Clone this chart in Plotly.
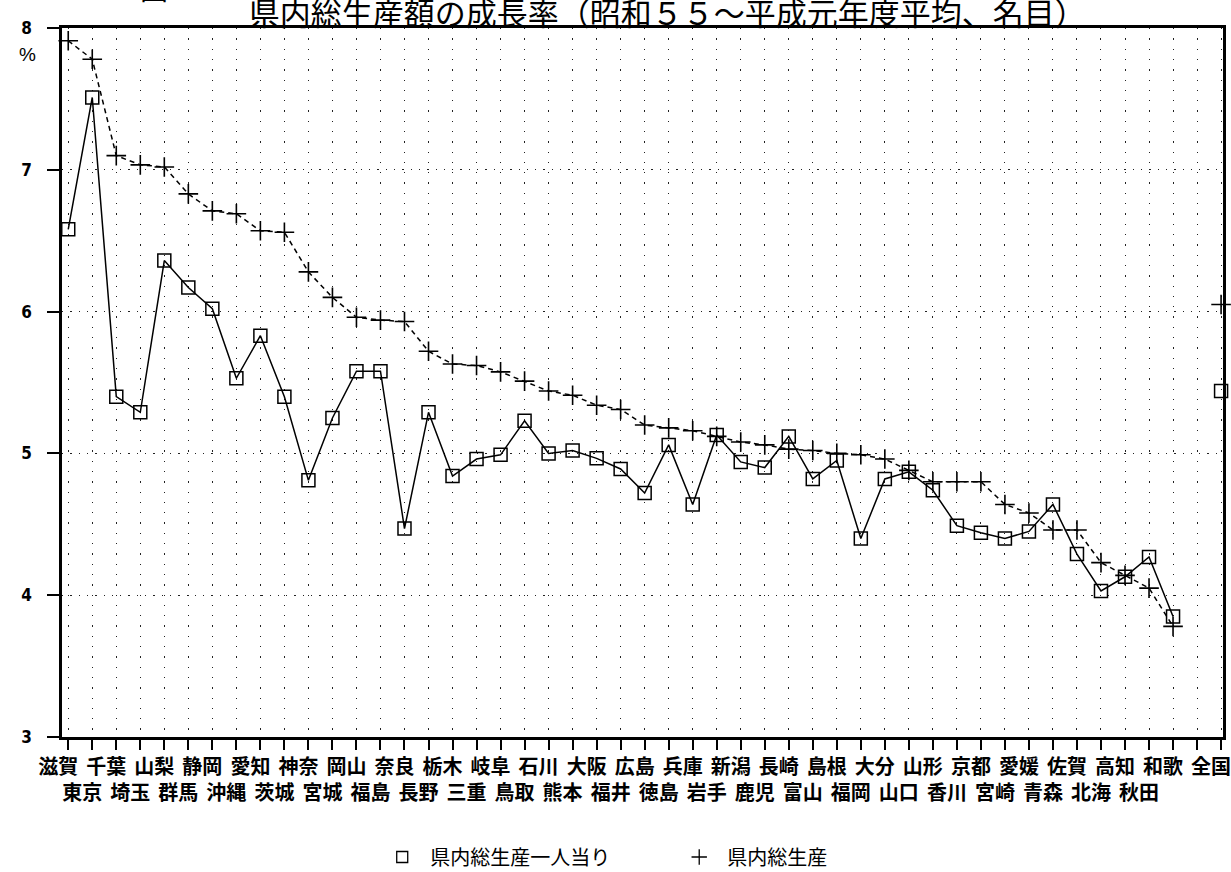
import plotly.graph_objects as go

CJK = "Noto Sans CJK JP"
NUM = "Liberation Sans Narrow, DejaVu Sans Condensed, Liberation Sans, sans-serif"

title_text = "県内総生産額の成長率（昭和５５～平成元年度平均、名目）"
figure_no = "図10"
y_unit = "%"

prefectures = ["滋賀", "東京", "千葉", "埼玉", "山梨", "群馬", "静岡", "沖縄", "愛知", "茨城",
               "神奈", "宮城", "岡山", "福島", "奈良", "長野", "栃木", "三重", "岐阜", "鳥取",
               "石川", "熊本", "大阪", "福井", "広島", "徳島", "兵庫", "岩手", "新潟", "鹿児",
               "長崎", "富山", "島根", "福岡", "大分", "山口", "山形", "香川", "京都", "宮崎",
               "愛媛", "青森", "佐賀", "北海", "高知", "秋田", "和歌"]

# 県内総生産一人当り (%)
per_capita = [6.58, 7.51, 5.40, 5.29, 6.36, 6.17, 6.02, 5.53, 5.83, 5.40,
              4.81, 5.25, 5.58, 5.58, 4.47, 5.29, 4.84, 4.96, 4.99, 5.23,
              5.00, 5.02, 4.965, 4.89, 4.72, 5.06, 4.64, 5.13, 4.94, 4.90,
              5.12, 4.82, 4.95, 4.40, 4.82, 4.87, 4.74, 4.49, 4.44, 4.40,
              4.45, 4.64, 4.29, 4.03, 4.13, 4.27, 3.85]

# 県内総生産 (%)
total = [7.91, 7.78, 7.10, 7.035, 7.02, 6.83, 6.71, 6.69, 6.57, 6.56,
         6.28, 6.10, 5.96, 5.94, 5.93, 5.72, 5.63, 5.62, 5.575, 5.51,
         5.44, 5.41, 5.34, 5.31, 5.20, 5.18, 5.16, 5.12, 5.08, 5.06,
         5.03, 5.02, 5.00, 4.99, 4.96, 4.88, 4.80, 4.80, 4.80, 4.64,
         4.58, 4.46, 4.46, 4.23, 4.14, 4.05, 3.78]

national_label = "全国"
national_per_capita = 5.44
national_total = 6.05

series_names = ["県内総生産一人当り", "県内総生産"]
y_ticks = [3, 4, 5, 6, 7, 8]

gap = "_gap_"
categories = prefectures + [gap, national_label]
y_pc = per_capita + [None, national_per_capita]
y_tot = total + [None, national_total]

tick_text = []
for i, name in enumerate(categories):
    if name == gap:
        tick_text.append("")
    elif i % 2 == 0:
        tick_text.append(name)
    else:
        tick_text.append("\u00a0<br>" + name)

fig = go.Figure()
fig.add_trace(go.Scatter(
    x=categories, y=y_pc, mode="lines+markers", connectgaps=False, cliponaxis=False,
    line=dict(color="black", width=1.5),
    marker=dict(symbol="square-open", size=13, color="black", line=dict(color="black", width=1.5)),
    showlegend=False))
fig.add_trace(go.Scatter(
    x=categories, y=y_tot, mode="lines+markers", connectgaps=False, cliponaxis=False,
    line=dict(color="black", width=1.5, dash="5px,4px"),
    marker=dict(symbol="cross-thin-open", size=14, color="black", line=dict(color="black", width=1.6)),
    showlegend=False))
# legend entries (marker only)
fig.add_trace(go.Scatter(
    x=[None], y=[None], mode="markers", name=series_names[0],
    marker=dict(symbol="square-open", size=11, color="black", line=dict(color="black", width=1.3))))
fig.add_trace(go.Scatter(
    x=[None], y=[None], mode="markers", name=series_names[1],
    marker=dict(symbol="cross-thin-open", size=11, color="black", line=dict(color="black", width=1.3))))

fig.update_xaxes(
    type="category", categoryorder="array", categoryarray=categories,
    tickmode="array", tickvals=categories, ticktext=tick_text, tickangle=0,
    range=[-0.26, 48.08],
    showline=True, linecolor="black", linewidth=2.5, mirror=True,
    ticks="outside", ticklen=10, tickwidth=1.5, tickcolor="black",
    showgrid=True, gridcolor="#222222", gridwidth=1.3, griddash="1.3px,9px",
    zeroline=False, ticklabelstandoff=0, ticklabelshift=-10,
    tickfont=dict(family=CJK, size=20, color="black", weight="bold"))
fig.update_yaxes(
    range=[3, 8], tickmode="array", tickvals=y_ticks,
    showline=True, linecolor="black", linewidth=2.5, mirror=True,
    ticks="outside", ticklen=12, tickwidth=1.5, tickcolor="black",
    showgrid=True, gridcolor="#222222", gridwidth=1.3, griddash="1.3px,7px",
    zeroline=False, ticklabelstandoff=12,
    tickfont=dict(family=NUM, size=17, color="black", weight="bold"))

fig.update_layout(
    width=1231, height=872,
    margin=dict(l=62, r=8, t=28, b=135, autoexpand=False),
    paper_bgcolor="white", plot_bgcolor="white",
    title=dict(text=title_text, x=0.542, xanchor="center", y=0.984, yanchor="middle",
               font=dict(family=CJK, size=31, color="black")),
    legend=dict(orientation="h", xref="container", yref="container",
                x=0.304, y=0.0172, xanchor="left", yanchor="middle",
                font=dict(family=CJK, size=20, color="black"), itemwidth=46,
                entrywidth=236, entrywidthmode="pixels", bgcolor="rgba(0,0,0,0)"),
    annotations=[
        dict(text=y_unit, xref="paper", yref="paper", x=-0.0293, y=0.963,
             xanchor="center", yanchor="middle", showarrow=False,
             font=dict(family="Liberation Sans, sans-serif", size=19, color="black")),
        dict(text=figure_no, xref="paper", yref="paper", x=0.093, y=1.056,
             xanchor="center", yanchor="middle", showarrow=False,
             font=dict(family=CJK, size=28, color="black")),
    ],
)

fig.write_html("out.html", config={"displayModeBar": False},
               post_script="document.body.style.margin='0px';")
